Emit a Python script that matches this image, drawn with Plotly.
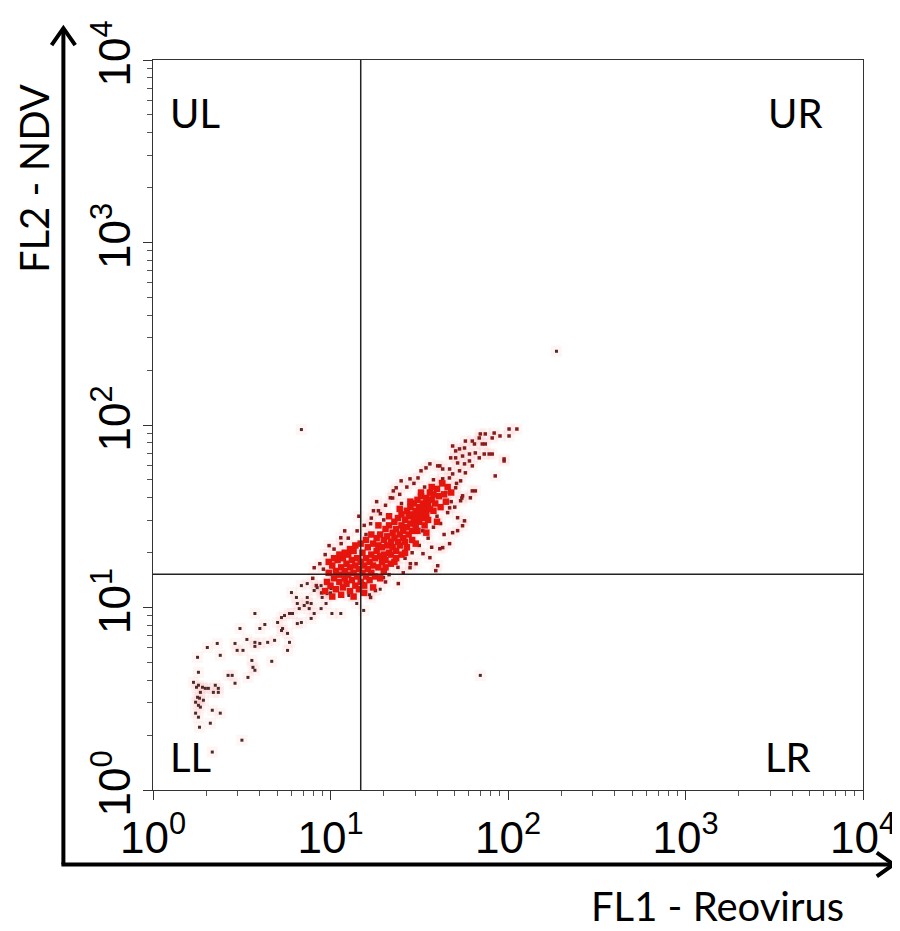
import numpy as np
import plotly.graph_objects as go

# ---------------- data (log10 decades of fluorescence) ----------------
# sparse events (dark dots): (FL1 decade, FL2 decade)
sparse_events = [
    (0.245, 0.563), (0.256, 0.574), (0.279, 0.563), (0.295, 0.557), (0.312, 0.557),
    (0.267, 0.535), (0.251, 0.508), (0.262, 0.503), (0.240, 0.481), (0.256, 0.464),
    (0.267, 0.454), (0.340, 0.535), (0.368, 0.535), (0.351, 0.574), (0.368, 0.557),
    (0.334, 0.437), (0.379, 0.421), (0.240, 0.421), (0.256, 0.399), (0.262, 0.344),
    (0.323, 0.366), (0.501, 0.273), (0.228, 0.590), (0.284, 0.492), (0.334, 0.208),
    (0.251, 0.727), (0.256, 0.645), (0.306, 0.781), (0.362, 0.803), (0.379, 0.738),
    (0.423, 0.628), (0.446, 0.628), (0.462, 0.585), (0.490, 0.885), (0.529, 0.825),
    (0.462, 0.803), (0.474, 0.765), (0.507, 0.765), (0.574, 0.809), (0.574, 0.787),
    (0.602, 0.803), (0.646, 0.809), (0.685, 0.820), (0.557, 0.710), (0.563, 0.672),
    (0.574, 0.656), (0.535, 0.617), (0.669, 0.705), (0.758, 0.765), (0.769, 0.809),
    (0.574, 0.967), (0.602, 0.885), (0.630, 0.907), (0.702, 0.918), (0.724, 0.945),
    (0.741, 0.956), (0.769, 0.967), (0.724, 0.874), (0.730, 0.885), (0.758, 0.858),
    (0.813, 0.912), (0.836, 0.918), (0.786, 0.967), (0.780, 1.082), (0.808, 1.055),
    (0.813, 1.022), (0.824, 0.994), (0.852, 1.011), (0.869, 1.055), (0.869, 1.027),
    (0.880, 0.994), (0.891, 0.940), (0.908, 0.967), (0.891, 1.022), (0.908, 1.093),
    (0.925, 1.109), (0.947, 1.120), (0.964, 1.082), (0.953, 1.055), (0.981, 1.076),
    (1.003, 1.104), (0.975, 1.022), (0.947, 0.994), (1.008, 0.967), (1.058, 0.967),
    (0.836, 1.120), (0.869, 1.131), (1.148, 1.022), (1.103, 1.066), (1.187, 0.984),
    (1.000, 1.080), (1.130, 1.060), (1.220, 1.070), (1.280, 1.100),
]

# events around the bright core and in the upper tail (red-brown dots)
mid_events = [
    (1.058, 1.382), (0.992, 1.339), (0.908, 1.218), (1.047, 1.273), (1.382, 1.131),
    (1.298, 1.164), (1.226, 1.055), (1.187, 1.131), (1.253, 1.093), (1.560, 1.273),
    (1.604, 1.229), (1.593, 1.202), (1.521, 1.295), (1.632, 1.328), (1.671, 1.350),
    (1.716, 1.421), (1.755, 1.475), (1.799, 1.639), (1.816, 1.639), (1.928, 1.721),
    (1.978, 1.803), (1.866, 1.841), (1.911, 1.841), (1.482, 1.240), (1.448, 1.218),
    (1.616, 1.322), (1.688, 1.410), (1.744, 1.448), (1.716, 1.492), (1.337, 1.601),
    (1.370, 1.656), (1.281, 1.514), (1.242, 1.530), (1.226, 1.459), (1.354, 1.639),
    (1.398, 1.694), (1.448, 1.705), (1.493, 1.710), (1.510, 1.749), (1.538, 1.765),
    (1.560, 1.787), (1.616, 1.776), (1.677, 1.820), (1.705, 1.858), (1.755, 1.874),
    (1.799, 1.912), (1.838, 1.929), (1.872, 1.951), (1.922, 1.956), (2.006, 1.978),
    (2.050, 1.978), (2.006, 1.940), (1.855, 1.896), (1.688, 1.885), (1.727, 1.869),
    (1.760, 1.912), (1.811, 1.896), (1.844, 1.951), (1.872, 1.896), (1.911, 1.929),
    (1.955, 1.940), (1.744, 1.830), (1.783, 1.841), (1.816, 1.847), (1.838, 1.820),
    (1.894, 1.841), (1.978, 1.814), (1.705, 1.820), (1.716, 1.792), (1.755, 1.787),
    (1.783, 1.803), (1.799, 1.776), (1.604, 1.776), (1.632, 1.759), (1.671, 1.759),
    (1.688, 1.732), (1.727, 1.749), (1.760, 1.738), (1.733, 1.694), (1.705, 1.656),
    (1.788, 1.601), (1.733, 1.585), (1.671, 1.546), (1.649, 1.574), (1.744, 1.612),
    (1.632, 1.705),
    (1.33, 1.18), (1.38, 1.22), (1.42, 1.27), (1.46, 1.30), (1.50, 1.34),
    (1.55, 1.38), (1.58, 1.44), (1.62, 1.46), (1.66, 1.52), (1.36, 1.26),
    (1.45, 1.24), (1.52, 1.42), (1.60, 1.50), (1.68, 1.58), (1.31, 1.14),
    (1.41, 1.19), (1.57, 1.33), (1.64, 1.40), (1.70, 1.55), (1.74, 1.60),
    (1.02, 1.32), (1.06, 1.35), (1.10, 1.38), (1.15, 1.42), (1.19, 1.45),
    (1.23, 1.49), (1.27, 1.53), (1.31, 1.56), (1.35, 1.60), (1.39, 1.62),
    (1.43, 1.66), (1.47, 1.68), (1.08, 1.42), (1.16, 1.50), (1.26, 1.58),
    (0.97, 1.29), (0.94, 1.24), (1.30, 1.48), (1.20, 1.40), (1.40, 1.57),
    (0.92, 1.12), (0.95, 1.08), (0.90, 1.16), (0.96, 1.21), (1.62, 1.69),
    (1.65, 1.63), (1.58, 1.70), (1.67, 1.71), (1.53, 1.66), (1.71, 1.68),
]

# dense core events (bright red)
core_events = [
    (0.98, 1.14), (0.99, 1.19), (1.00, 1.12), (1.01, 1.23), (1.02, 1.16),
    (1.03, 1.10), (1.03, 1.20), (1.04, 1.26), (1.05, 1.14), (1.05, 1.18),
    (1.06, 1.22), (1.07, 1.11), (1.07, 1.27), (1.08, 1.16), (1.08, 1.20),
    (1.09, 1.24), (1.09, 1.13), (1.10, 1.18), (1.10, 1.29), (1.11, 1.09),
    (1.11, 1.22), (1.12, 1.15), (1.12, 1.26), (1.13, 1.19), (1.13, 1.31),
    (1.14, 1.12), (1.14, 1.23), (1.15, 1.17), (1.15, 1.27), (1.16, 1.21),
    (1.16, 1.10), (1.17, 1.25), (1.17, 1.14), (1.18, 1.19), (1.18, 1.30),
    (1.19, 1.23), (1.19, 1.12), (1.20, 1.17), (1.20, 1.27), (1.21, 1.21),
    (1.21, 1.33), (1.22, 1.15), (1.22, 1.25), (1.23, 1.29), (1.23, 1.19),
    (1.24, 1.23), (1.24, 1.35), (1.25, 1.27), (1.25, 1.17),
    (1.26, 1.31), (1.26, 1.38), (1.27, 1.22), (1.27, 1.34), (1.28, 1.28),
    (1.28, 1.40), (1.29, 1.25), (1.29, 1.33), (1.30, 1.37), (1.30, 1.29),
    (1.31, 1.43), (1.31, 1.26), (1.32, 1.34), (1.32, 1.39), (1.33, 1.30),
    (1.33, 1.45), (1.34, 1.36), (1.34, 1.29), (1.35, 1.41), (1.35, 1.33),
    (1.36, 1.47), (1.36, 1.38), (1.37, 1.31), (1.37, 1.43), (1.38, 1.36),
    (1.38, 1.49), (1.39, 1.40), (1.39, 1.34), (1.40, 1.45), (1.40, 1.51),
    (1.41, 1.38), (1.41, 1.42), (1.42, 1.48), (1.42, 1.36), (1.43, 1.53),
    (1.43, 1.44), (1.44, 1.40), (1.44, 1.50), (1.45, 1.46), (1.45, 1.55),
    (1.46, 1.42), (1.46, 1.51), (1.47, 1.48), (1.47, 1.57), (1.48, 1.45),
    (1.48, 1.53), (1.49, 1.50), (1.49, 1.59), (1.50, 1.47), (1.50, 1.55),
    (1.51, 1.52), (1.51, 1.61), (1.52, 1.49), (1.52, 1.57), (1.53, 1.54),
    (1.54, 1.60), (1.54, 1.51), (1.55, 1.57), (1.56, 1.63), (1.56, 1.54),
    (1.57, 1.59), (1.58, 1.62), (1.59, 1.57), (1.60, 1.65), (1.61, 1.61),
    (1.27, 1.45), (1.30, 1.20), (1.33, 1.50), (1.36, 1.25), (1.39, 1.54),
    (1.42, 1.30), (1.45, 1.58), (1.48, 1.35), (1.51, 1.63), (1.54, 1.41),
    (1.57, 1.66), (1.60, 1.47), (1.63, 1.68), (1.62, 1.55), (1.64, 1.62),
    (1.66, 1.66), (1.68, 1.63), (1.65, 1.58), (1.58, 1.53), (1.55, 1.48),
    (1.53, 1.45), (1.49, 1.42), (1.46, 1.37), (1.43, 1.33), (1.40, 1.29),
    (1.37, 1.27), (1.34, 1.24), (1.31, 1.22), (1.23, 1.40), (1.20, 1.37),
    (1.17, 1.35), (1.14, 1.34), (1.11, 1.32), (1.08, 1.30), (1.05, 1.29),
    (1.02, 1.27), (0.99, 1.25), (0.97, 1.09), (1.01, 1.06), (1.06, 1.07),
    (1.13, 1.06), (1.19, 1.08), (1.24, 1.11), (1.28, 1.16),
]

# rare outlier events
outlier_events = [(0.836, 1.975), (2.273, 2.404), (1.844, 0.628)]

# quadrant gate (linear fluorescence units)
gate_fl1 = 14.8
gate_fl2 = 15.2

x_tick_vals = [1, 10, 100, 1000, 10000]
x_tick_text = ["10<sup>0</sup>", "10<sup>1</sup>", "10<sup>2</sup>", "10<sup>3</sup>", "10<sup>4</sup>"]
quadrant_labels = ["UL", "UR", "LL", "LR"]


def to_linear(events):
    arr = np.array(events, dtype=float)
    return 10 ** arr[:, 0], 10 ** arr[:, 1]


sx, sy = to_linear(sparse_events + outlier_events)
mx, my = to_linear(mid_events)
cx, cy = to_linear(core_events)

fig = go.Figure()

# faint pink halo around all events
hx = np.concatenate([sx, mx, cx])
hy = np.concatenate([sy, my, cy])
fig.add_trace(go.Scatter(x=hx, y=hy, mode="markers", hoverinfo="skip",
                         marker=dict(symbol="square", size=11, color="rgba(235,110,110,0.07)", line=dict(width=0))))
fig.add_trace(go.Scatter(x=sx, y=sy, mode="markers",
                         marker=dict(symbol="square", size=3, color="#4e2a2a", line=dict(width=0))))
fig.add_trace(go.Scatter(x=mx, y=my, mode="markers",
                         marker=dict(symbol="square", size=3.5, color="#861c1c", line=dict(width=0))))
fig.add_trace(go.Scatter(x=cx, y=cy, mode="markers",
                         marker=dict(symbol="square", size=6.5, color="#e5140c", line=dict(width=0))))

# quadrant lines
fig.add_trace(go.Scatter(x=[gate_fl1, gate_fl1], y=[1, 10000], mode="lines",
                         line=dict(color="#222222", width=1.5), hoverinfo="skip"))
fig.add_trace(go.Scatter(x=[1, 10000], y=[gate_fl2, gate_fl2], mode="lines",
                         line=dict(color="#222222", width=1.5), hoverinfo="skip"))

minor_vals = [m * 10 ** d for d in range(4) for m in range(2, 10)]

axis_common = dict(
    type="log", range=[0, 4],
    tickmode="array", tickvals=x_tick_vals, ticktext=x_tick_text,
    ticks="outside", ticklen=9, tickwidth=1, tickcolor="#333333",
    showline=True, linecolor="#333333", linewidth=1, mirror=True,
    showgrid=False, zeroline=False,
    minor=dict(tickmode="array", tickvals=minor_vals, ticks="outside", ticklen=5,
               tickwidth=1, tickcolor="#555555", showgrid=False),
    tickfont=dict(family="Liberation Sans, Arial, sans-serif", size=44, color="black"),
)

fig.update_layout(
    width=900, height=931,
    margin=dict(l=145, r=34, t=47, b=149),
    paper_bgcolor="white", plot_bgcolor="white",
    showlegend=False,
    xaxis=dict(**axis_common),
    yaxis=dict(**axis_common, tickangle=-90, ticklabelstandoff=-5),
)

W, H = 721.0, 735.0
def px(x):
    return (x - 145) / W
def py(y):
    return (782 - y) / H

lw = 4
shapes = [
    dict(type="line", xref="paper", yref="paper", x0=px(54), y0=py(857), x1=px(54), y1=py(16),
         line=dict(color="black", width=lw)),
    dict(type="line", xref="paper", yref="paper", x0=px(52), y0=py(857), x1=px(896), y1=py(857),
         line=dict(color="black", width=lw)),
    dict(type="path", xref="paper", yref="paper",
         path=f"M {px(42)},{py(32)} L {px(54)},{py(15)} L {px(66)},{py(32)}",
         line=dict(color="black", width=lw)),
    dict(type="path", xref="paper", yref="paper",
         path=f"M {px(880)},{py(845)} L {px(897)},{py(857)} L {px(880)},{py(869)}",
         line=dict(color="black", width=lw)),
]
fig.update_layout(shapes=shapes)

label_font = dict(family="Lato, Open Sans, sans-serif", size=40, color="black")
title_font = dict(family="Lato, Open Sans, sans-serif", size=40, color="black")
annotations = [
    dict(text=quadrant_labels[0], x=px(160), y=py(100), xanchor="left", yanchor="middle"),
    dict(text=quadrant_labels[1], x=px(826), y=py(100), xanchor="right", yanchor="middle"),
    dict(text=quadrant_labels[2], x=px(160), y=py(749), xanchor="left", yanchor="middle"),
    dict(text=quadrant_labels[3], x=px(815), y=py(749), xanchor="right", yanchor="middle"),
]
for a in annotations:
    a.update(xref="paper", yref="paper", showarrow=False, font=label_font)
annotations += [
    dict(text="FL2 - NDV", x=px(24), y=py(166), xref="paper", yref="paper", showarrow=False,
         textangle=-90, xanchor="center", yanchor="middle", font=title_font),
    dict(text="FL1 - Reovirus", x=px(718), y=py(899), xref="paper", yref="paper", showarrow=False,
         xanchor="center", yanchor="middle", font=title_font),
]
fig.update_layout(annotations=annotations)

fig.write_html("out.html")
